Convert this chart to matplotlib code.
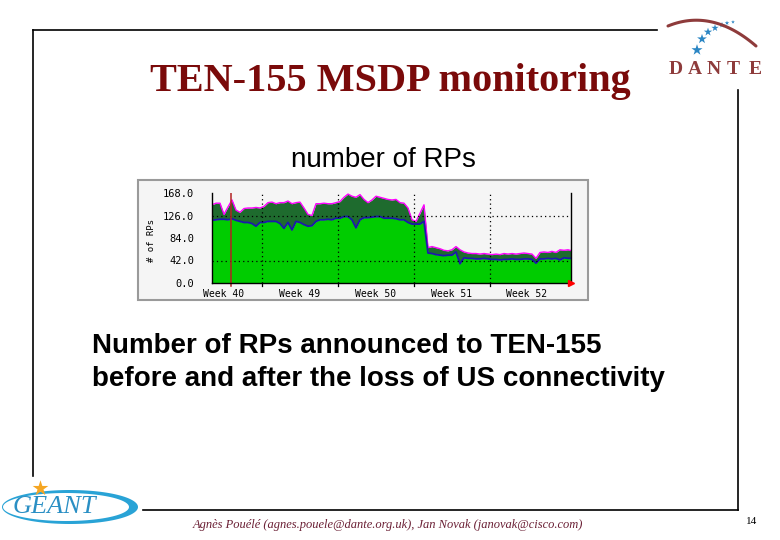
import numpy as np
import matplotlib
matplotlib.use("Agg")
import matplotlib.pyplot as plt
from matplotlib.patches import Rectangle, PathPatch
from matplotlib.path import Path

# number of RPs (MRTG graph), one sample every ~8.8 hours
rp_avg = [117, 118, 119, 119, 118, 120, 117, 115, 113, 113,
          111, 106, 113, 113, 115, 115, 115, 111, 102, 113,
          99, 115, 113, 109, 106, 107, 115, 118, 118, 119,
          118, 121, 121, 124, 124, 118, 103, 118, 122, 122,
          123, 124, 124, 121, 121, 121, 120, 118, 118, 113,
          110, 110, 110, 115, 56, 55, 53, 52, 51, 52,
          52, 58, 36, 47, 46, 46, 45, 45, 46, 45,
          44, 44, 43, 44, 44, 45, 44, 44, 45, 45,
          44, 37, 45, 45, 46, 45, 46, 43, 47, 46,
          46]
rp_max = [146, 149, 149, 128, 142, 155, 136, 132, 139, 140,
          140, 141, 140, 143, 150, 151, 148, 150, 150, 153,
          148, 150, 151, 140, 128, 126, 148, 148, 149, 148,
          148, 150, 152, 160, 166, 162, 160, 165, 156, 150,
          155, 162, 160, 158, 156, 155, 156, 150, 149, 140,
          118, 115, 130, 146, 66, 68, 66, 64, 61, 60,
          62, 68, 62, 58, 56, 55, 55, 54, 55, 54,
          53, 54, 53, 55, 54, 55, 54, 55, 56, 55,
          54, 46, 57, 58, 57, 59, 57, 62, 61, 62,
          60]
days = np.linspace(0, 33.16, len(rp_avg))

week_labels = ["Week 40", "Week 49", "Week 50", "Week 51", "Week 52"]
week_starts = [4.65, 11.65, 18.65, 25.65]
y_ticks = [0, 42, 84, 126, 168]
y_tick_labels = ["0.0", "42.0", "84.0", "126.0", "168.0"]
marker_day = 1.75

W, H = 780, 540
fig = plt.figure(figsize=(7.8, 5.4), dpi=100)
fig.patch.set_facecolor("white")

# slide background in pixel coordinates
bg = fig.add_axes([0, 0, 1, 1])
bg.set_xlim(0, W)
bg.set_ylim(H, 0)
bg.axis("off")

# frame
bg.plot([33, 657], [30, 30], color="black", lw=1.2)
bg.plot([33, 33], [30, 476], color="black", lw=1.2)
bg.plot([143, 738], [510, 510], color="black", lw=1.2)
bg.plot([738, 738], [90, 510], color="black", lw=1.2)

title_red = "#7a0a0a"
bg.text(390, 82, "TEN-155 MSDP monitoring", family="Liberation Serif",
        weight="bold", fontsize=29, color=title_red, ha="center", va="center")
bg.text(383, 160, "number of RPs", family="Liberation Sans", fontsize=20,
        color="black", ha="center", va="center")
bg.text(92, 346, "Number of RPs announced to TEN-155", family="Liberation Sans",
        weight="bold", fontsize=20, ha="left", va="center")
bg.text(92, 379, "before and after the loss of US connectivity",
        family="Liberation Sans", weight="bold", fontsize=20, ha="left",
        va="center")
bg.text(388, 525, "Agnès Pouélé (agnes.pouele@dante.org.uk), Jan Novak (janovak@cisco.com)",
        family="Liberation Serif", style="italic", fontsize=9, color="#6b2035",
        ha="center", va="center")
bg.text(752, 521, "14", family="Liberation Serif", fontsize=8, ha="center",
        va="center")

# DANTE logo
dante_red = "#8e3b3b"
for ch, xc in zip("DANTE", [676, 695, 714, 733, 755]):
    bg.text(xc, 69, ch, family="Liberation Serif", weight="bold", fontsize=14,
            color=dante_red, ha="center", va="center")
t = np.linspace(0, 1, 50)
arc_x = (1 - t) ** 2 * 668 + 2 * (1 - t) * t * 712 + t ** 2 * 756
arc_y = (1 - t) ** 2 * 26 + 2 * (1 - t) * t * 8 + t ** 2 * 46
bg.plot(arc_x, arc_y, color=dante_red, lw=2.2, solid_capstyle="round")
star_x = [697, 702, 708, 715, 722, 727, 733]
star_y = [50, 39, 32, 28, 25, 23, 22]
star_s = [70, 55, 40, 30, 20, 12, 8]
bg.scatter(star_x, star_y, s=star_s, marker="*", color="#2b86c4", lw=0)

# GEANT logo: crescent swoosh
geant_blue = "#29a3d6"
a = np.linspace(0, 2 * np.pi, 120)
outer = np.column_stack([70 + 68 * np.cos(a), 507 + 17 * np.sin(a)])
inner = np.column_stack([66 + 63 * np.cos(a), 507 + 14 * np.sin(a)])[::-1]
verts = np.vstack([outer, inner])
codes = ([Path.MOVETO] + [Path.LINETO] * (len(outer) - 1)
         + [Path.MOVETO] + [Path.LINETO] * (len(inner) - 1))
bg.add_patch(PathPatch(Path(verts, codes), fc=geant_blue, ec="none"))
bg.text(54, 507, "GEANT", family="Liberation Serif", style="italic",
        fontsize=19, color="#2a8fc4", ha="center", va="center")
bg.scatter([40], [488], s=140, marker="*", color="#f5a623", lw=0)

# MRTG image box
bg.add_patch(Rectangle((138, 180), 450, 120, fc="#f5f5f5", ec="#9a9a9a", lw=1.5))

# the graph itself
ax = fig.add_axes([212 / W, 1 - 283 / H, 359 / W, 90 / H])
ax.set_facecolor("#f5f5f5")
ax.fill_between(days, 0, rp_avg, color="#00cc00", lw=0, zorder=1)
ax.fill_between(days, rp_avg, rp_max, color="#1e6b2e", lw=0, zorder=1)
ax.plot(days, rp_max, color="#ff00ff", lw=1.0, zorder=2)
ax.plot(days, rp_avg, color="#1a1aaa", lw=1.3, zorder=2)

for yv in [42, 126]:
    ax.axhline(yv, color="black", lw=0.9, ls=(0, (1, 2.5)), zorder=3)
for wd in week_starts:
    ax.axvline(wd, color="black", lw=0.9, ls=(0, (1, 2.5)), zorder=3)
    ax.plot([wd, wd], [0, -5], color="black", lw=0.9, clip_on=False)
ax.axvline(marker_day, color="#b22222", lw=1.1, zorder=3)
ax.plot([marker_day, marker_day], [0, -5], color="#b22222", lw=1.1, clip_on=False)
ax.plot([33.07], [0], marker=">", color="red", ms=5, clip_on=False, zorder=5)

ax.set_xlim(0, 33.07)
ax.set_ylim(0, 168)
ax.set_yticks(y_ticks)
ax.set_yticklabels(y_tick_labels, family="DejaVu Sans Mono", fontsize=7.5)
ax.set_xticks([w - 3.6 for w in week_starts] + [29.0])
ax.set_xticklabels(week_labels, family="DejaVu Sans Mono", fontsize=7)
ax.tick_params(axis="both", length=0, pad=4)
ax.tick_params(axis="y", pad=13)
ax.spines["top"].set_visible(False)
for side in ["left", "right", "bottom"]:
    ax.spines[side].set_color("black")
    ax.spines[side].set_linewidth(1.0)
    ax.spines[side].set_zorder(4)
ax.spines["left"].set_bounds(0, 168)

fig.text(152 / W, 1 - 240 / H, "# of RPs", family="DejaVu Sans Mono",
         fontsize=6.5, rotation=90, ha="center", va="center")

fig.savefig("out.png", dpi=100)
